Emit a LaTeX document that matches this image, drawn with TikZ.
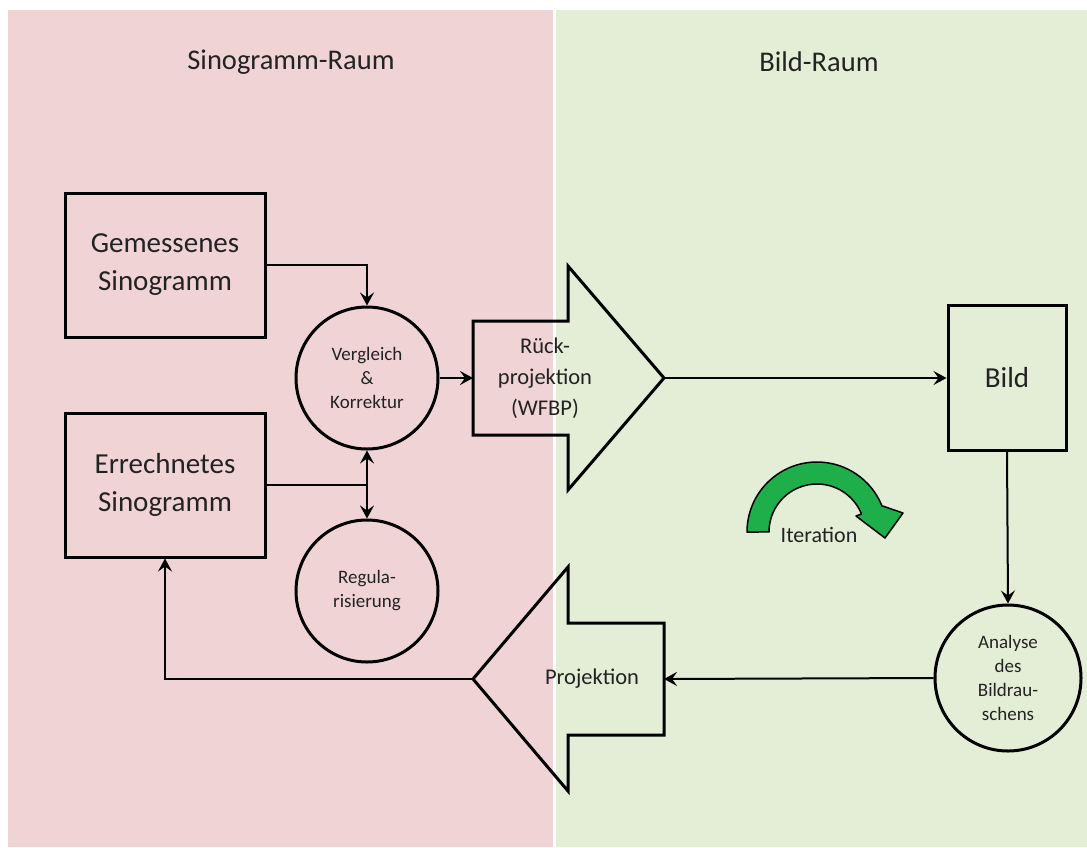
\documentclass[tikz,border=0pt]{standalone}
\usepackage{fontspec}
\setmainfont{Carlito}
\usetikzlibrary{arrows.meta}
\definecolor{sinorot}{RGB}{240,211,213}
\definecolor{bildgruen}{RGB}{228,237,214}
\definecolor{itergruen}{RGB}{30,175,75}
\definecolor{schrift}{RGB}{35,35,35}
\begin{document}
\begin{tikzpicture}[x=1pt, y=-1pt,
    >={Stealth[length=13pt, width=14pt, inset=5pt]},
    kasten/.style={draw, line width=3pt, align=center, text=schrift},
    kreis/.style={circle, draw, line width=3pt, align=center, text=schrift, font=\fontsize{19}{24}\selectfont},
    pfeil/.style={line width=2pt, ->},
    linie/.style={line width=2pt},
    blockpfeil/.style={draw, line width=3pt, line join=miter},
    titel/.style={text=schrift, font=\fontsize{28.5}{34}\selectfont}]
    \useasboundingbox (0,0) rectangle (1087,847);

    % Hintergrund
    \fill[white] (0,0) rectangle (1087,847);
    \fill[sinorot] (8,10) rectangle (553,847);
    \fill[bildgruen] (556,10) rectangle (1087,847);

    \node[titel] (sino) at (291,62) {Sinogramm-Raum};
    \node[titel] (raum) at (819,62) {Bild-Raum};

    \node[kasten, minimum width=200pt, minimum height=144pt, font=\fontsize{29}{38}\selectfont] (gem) at (165,265) {Gemessenes\\Sinogramm};
    \node[kasten, minimum width=200pt, minimum height=144pt, font=\fontsize{29}{38}\selectfont] (err) at (165,485) {Errechnetes\\Sinogramm};
    \node[kreis, minimum size=142pt] (verg) at (367,378) {Vergleich\\\&\\Korrektur};
    \node[kreis, minimum size=142pt] (reg) at (367,591) {Regula-\\risierung};
    \node[kasten, minimum width=118pt, minimum height=145pt, font=\fontsize{29}{36}\selectfont] (bild) at (1007,378) {Bild};
    \node[kreis, minimum size=146pt] (ana) at (1008,678) {Analyse\\des\\Bildrau-\\schens};

    % Blockpfeile
    \draw[blockpfeil] (473,321) -- (568,321) -- (568,266) -- (664,378) -- (568,490) -- (568,435) -- (473,435) -- cycle;
    \coordinate (rp-in) at (473,378);
    \coordinate (rp-tip) at (664,378);
    \node[text=schrift, align=center, font=\fontsize{22.5}{31}\selectfont] (rp) at (545,378) {Rück-\\projektion\\(WFBP)};

    \draw[blockpfeil] (664,623) -- (568,623) -- (568,567) -- (473,679) -- (568,791) -- (568,735) -- (664,735) -- cycle;
    \coordinate (pj-in) at (664,679);
    \coordinate (pj-tip) at (473,679);
    \node[text=schrift, font=\fontsize{22.5}{28}\selectfont] (pj) at (592,679) {Projektion};

    % Iteration
    \filldraw[fill=itergruen, draw=black, line width=1.5pt, line join=round] (747,532) arc[start angle=180, end angle=22, radius=70pt]
        -- (903,513) -- (885,538) -- (856,516) -- (861.5,514) arc[start angle=22, end angle=180, radius=48pt] -- cycle;
    \node[text=schrift, font=\fontsize{22}{26}\selectfont] (iter) at (819,535) {Iteration};

    \draw[pfeil] (gem.east) -| (verg.north);
    \draw[linie] (err.east) -- (err.east -| verg.south);
    \draw[linie, <->] (verg.south) -- (reg.north);
    \draw[pfeil] (verg.east) -- (rp-in);
    \draw[pfeil] (rp-tip) -- (bild.west);
    \draw[pfeil] (bild.south) -- (ana.north);
    \draw[pfeil] (ana.west) -- (pj-in);
    \draw[pfeil] (pj-tip) -| (err.south);
\end{tikzpicture}
\end{document}
